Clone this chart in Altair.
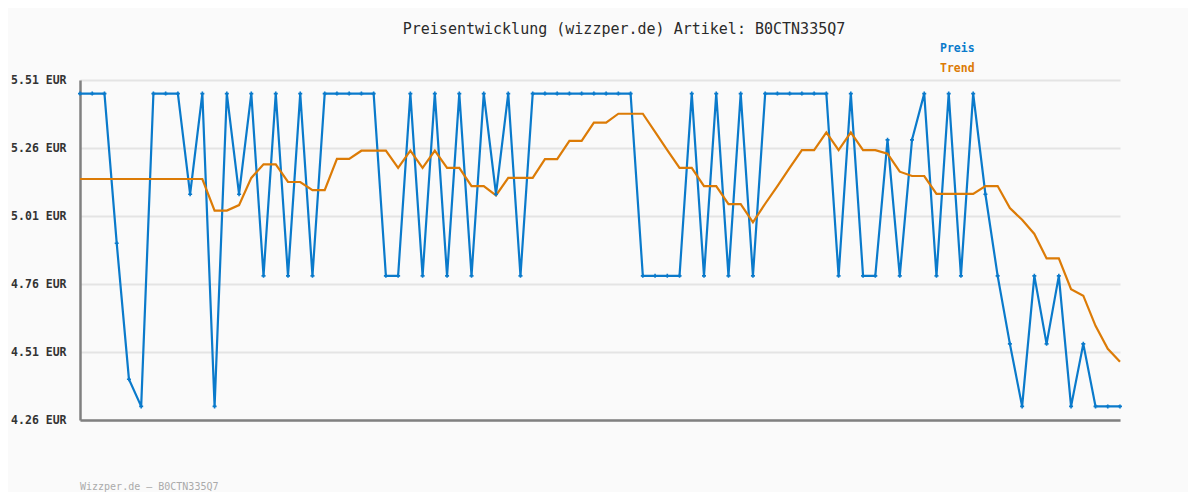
import altair as alt
import pandas as pd

TITLE = "Preisentwicklung (wizzper.de) Artikel: B0CTN335Q7"
FOOTER = "Wizzper.de \u2013 B0CTN335Q7"
SERIES = ["Preis", "Trend"]
COLORS = ["#0a7acb", "#dc7b06"]
Y_TICKS = [4.26, 4.51, 4.76, 5.01, 5.26, 5.51]

preis = [
    5.46, 5.46, 5.46, 4.91, 4.41, 4.31, 5.46, 5.46, 5.46, 5.09,
    5.46, 4.31, 5.46, 5.09, 5.46, 4.79, 5.46, 4.79, 5.46, 4.79,
    5.46, 5.46, 5.46, 5.46, 5.46, 4.79, 4.79, 5.46, 4.79, 5.46,
    4.79, 5.46, 4.79, 5.46, 5.09, 5.46, 4.79, 5.46, 5.46, 5.46,
    5.46, 5.46, 5.46, 5.46, 5.46, 5.46, 4.79, 4.79, 4.79, 4.79,
    5.46, 4.79, 5.46, 4.79, 5.46, 4.79, 5.46, 5.46, 5.46, 5.46,
    5.46, 5.46, 4.79, 5.46, 4.79, 4.79, 5.29, 4.79, 5.29, 5.46,
    4.79, 5.46, 4.79, 5.46, 5.09, 4.79, 4.54, 4.31, 4.79, 4.54,
    4.79, 4.31, 4.54, 4.31, 4.31, 4.31,
]

trend = [
    5.146, 5.146, 5.146, 5.146, 5.146, 5.146, 5.146, 5.146, 5.146, 5.146,
    5.146, 5.03, 5.03, 5.05, 5.15, 5.20, 5.20, 5.135, 5.135, 5.105,
    5.105, 5.22, 5.22, 5.25, 5.25, 5.25, 5.187, 5.25, 5.187, 5.25,
    5.187, 5.187, 5.12, 5.12, 5.086, 5.15, 5.15, 5.15, 5.219, 5.219,
    5.286, 5.286, 5.353, 5.353, 5.386, 5.386, 5.386, 5.319, 5.252, 5.187,
    5.187, 5.12, 5.12, 5.054, 5.054, 4.987, 5.055, 5.12, 5.187, 5.252,
    5.252, 5.317, 5.252, 5.317, 5.252, 5.252, 5.239, 5.173, 5.157, 5.157,
    5.091, 5.091, 5.091, 5.091, 5.12, 5.12, 5.039, 4.996, 4.944, 4.854,
    4.854, 4.741, 4.717, 4.606, 4.522, 4.474,
]

idx = list(range(len(preis)))
df = pd.DataFrame({"i": idx + idx,
                   "wert": preis + trend,
                   "serie": ["Preis"] * len(preis) + ["Trend"] * len(trend)})
df_p = df[df.serie == "Preis"]

MONO = "DejaVu Sans Mono"

x_enc = alt.X("i:Q", scale=alt.Scale(domain=[0, len(preis) - 1], nice=False, zero=False),
              axis=alt.Axis(title=None, labels=False, ticks=False, grid=False,
                            domainColor="#808080", domainWidth=2.5))
y_enc = alt.Y("wert:Q", scale=alt.Scale(domain=[Y_TICKS[0], Y_TICKS[-1]], nice=False, zero=False),
              axis=alt.Axis(title=None, values=Y_TICKS, ticks=False,
                            labelExpr="format(datum.value, '.2f') + ' EUR'",
                            labelFont=MONO, labelFontSize=11.5, labelFontWeight="bold",
                            labelColor="#333333", labelPadding=14,
                            grid=True, gridColor="#e4e4e4", gridWidth=2,
                            domainColor="#808080", domainWidth=2.5))
color_enc = alt.Color("serie:N", scale=alt.Scale(domain=SERIES, range=COLORS), legend=None)

lines = alt.Chart(df).mark_line(strokeWidth=2.2).encode(x=x_enc, y=y_enc, color=color_enc)
points = alt.Chart(df_p).mark_point(shape="cross", filled=True, size=16, opacity=1).encode(
    x="i:Q", y="wert:Q", color=color_enc)

legend_p = alt.Chart(pd.DataFrame({"t": [SERIES[0]]})).mark_text(
    font=MONO, fontSize=11.5, fontWeight="bold", align="left", baseline="middle",
    color=COLORS[0]).encode(text="t:N", x=alt.value(860), y=alt.value(-31))
legend_t = alt.Chart(pd.DataFrame({"t": [SERIES[1]]})).mark_text(
    font=MONO, fontSize=11.5, fontWeight="bold", align="left", baseline="middle",
    color=COLORS[1]).encode(text="t:N", x=alt.value(860), y=alt.value(-11))
footer = alt.Chart(pd.DataFrame({"t": [FOOTER]})).mark_text(
    font=MONO, fontSize=10, align="left", baseline="middle",
    color="#aaaaaa").encode(text="t:N", x=alt.value(0), y=alt.value(407))

chart = alt.layer(lines, points, legend_p, legend_t, footer).properties(
    width=1040, height=340,
    title=alt.TitleParams(TITLE, font=MONO, fontSize=15, fontWeight="normal",
                          color="#2a2a2a", anchor="middle", dx=24, offset=6),
    autosize=alt.AutoSizeParams(type="none"),
    padding={"left": 72, "top": 72, "right": 68, "bottom": 72},
    background="#fafafa",
).configure_view(stroke=None)

chart.save("out.html", embed_options={"renderer": "svg", "actions": False})
